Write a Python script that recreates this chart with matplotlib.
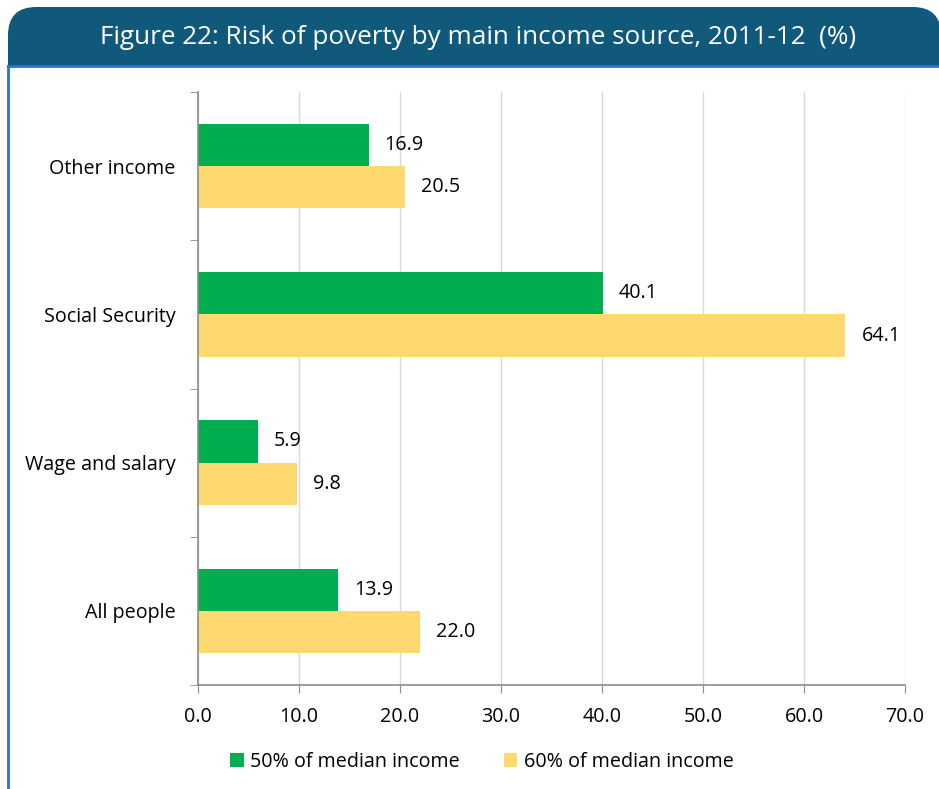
#!/usr/bin/env python

import numpy as np
import matplotlib.pyplot as plt
from matplotlib.patches import FancyBboxPatch, Rectangle
from matplotlib.lines import Line2D

categories = ["All people", "Wage and salary", "Social Security", "Other income"]
median_50 = [13.9, 5.9, 40.1, 16.9]
median_60 = [22.0, 9.8, 64.1, 20.5]
series_names = ["50% of median income", "60% of median income"]
x_ticks = [0, 10, 20, 30, 40, 50, 60, 70]

green = "#00ad4f"
yellow = "#fed96f"
banner = "#10597a"
frame = "#2a74c0"
axis_grey = "#8c8c8c"

plt.rcParams['font.family'] = ['Open Sans', 'DejaVu Sans']

W, H = 939, 789
fig = plt.figure(figsize=(W / 100, H / 100), dpi=100)

# banner with rounded top corners
fig.patches.append(FancyBboxPatch((8 / W, 1 - 66 / H), (941 - 8) / W, 59 / H,
                                  boxstyle="round,pad=0,rounding_size=0.03",
                                  transform=fig.transFigure, facecolor=banner,
                                  edgecolor="none", mutation_aspect=W / H))
fig.patches.append(Rectangle((8 / W, 1 - 66 / H), (W - 8) / W, 30 / H,
                             transform=fig.transFigure, facecolor=banner, edgecolor="none"))
fig.lines.append(Line2D([8 / W, 1], [1 - 66 / H, 1 - 66 / H], transform=fig.transFigure,
                        color=frame, lw=2))
fig.lines.append(Line2D([8 / W, 8 / W], [0, 1 - 66 / H], transform=fig.transFigure,
                        color=frame, lw=2))
fig.text(478 / W, 1 - 37 / H, "Figure 22: Risk of poverty by main income source, 2011-12  (%)",
         color="white", fontsize=18.8, ha="center", va="center")

fs = 14.2
ax = fig.add_axes([198 / W, 1 - 685 / H, (905 - 198) / W, (685 - 92) / H])
y = np.arange(len(categories))
h = 0.285
b1 = ax.barh(y + h / 2, median_50, height=h, color=green, label=series_names[0])
b2 = ax.barh(y - h / 2, median_60, height=h, color=yellow, label=series_names[1])

for bars, vals in ((b1, median_50), (b2, median_60)):
    for bar, v in zip(bars, vals):
        ax.annotate(f"{v:.1f}", (v, bar.get_y() + bar.get_height() / 2),
                    xytext=(16, 0), textcoords="offset pixels",
                    ha="left", va="center", fontsize=fs)

ax.set_xlim(0, 70)
ax.set_ylim(-0.5, len(categories) - 0.5)
ax.set_xticks(x_ticks)
ax.set_xticklabels([f"{t:.1f}" for t in x_ticks], fontsize=fs)
ax.set_yticks(y)
ax.set_yticklabels(categories, fontsize=fs)
ax.set_yticks(np.arange(-0.5, len(categories)), minor=True)
ax.tick_params(axis="y", which="major", length=0, pad=16)
ax.tick_params(axis="y", which="minor", length=6, color=axis_grey, direction="out")
ax.tick_params(axis="x", length=6, color=axis_grey, pad=10)
ax.xaxis.grid(True, color="#d9d9d9", lw=1)
ax.set_axisbelow(True)
for s in ("top", "right"):
    ax.spines[s].set_visible(False)
for s in ("left", "bottom"):
    ax.spines[s].set_color(axis_grey)
    ax.spines[s].set_linewidth(1.2)

fig.legend(handles=[b1, b2], loc="center", bbox_to_anchor=(482 / W, 1 - 762 / H),
           ncol=2, frameon=False, fontsize=fs, handlelength=0.7, handleheight=0.7,
           handletextpad=0.35, columnspacing=2.2)

fig.savefig("out.png", dpi=100)
